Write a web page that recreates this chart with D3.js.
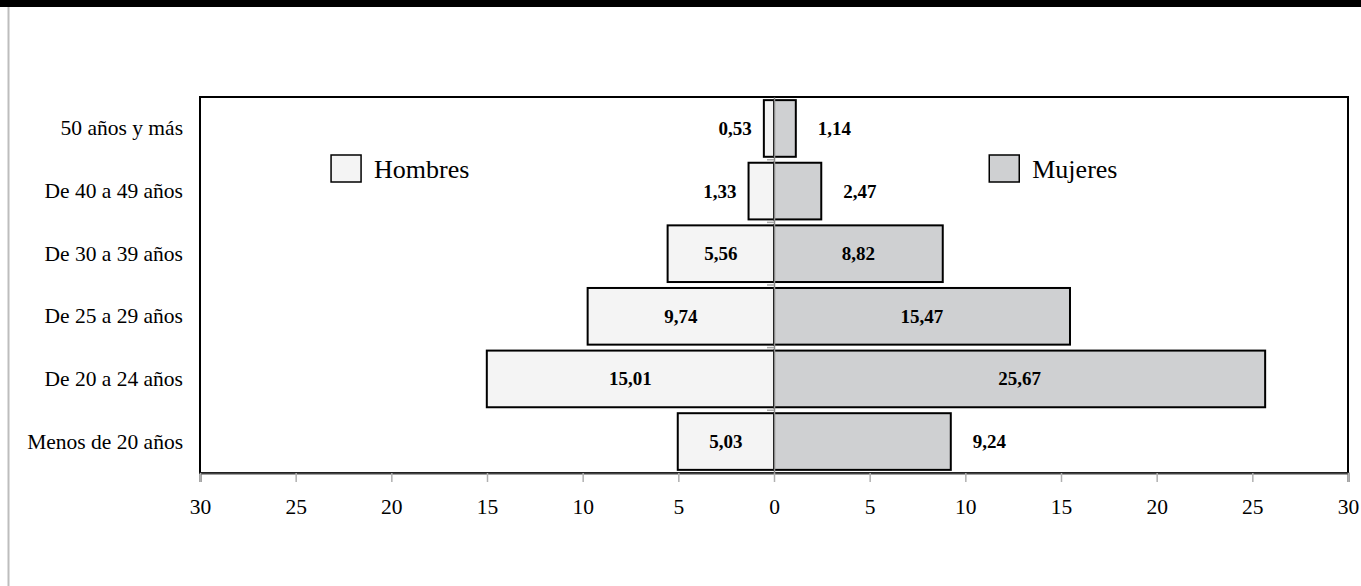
<!DOCTYPE html>
<html lang="es">
<head>
<meta charset="UTF-8">
<title>Pirámide por edad</title>
<script src="https://d3js.org/d3.v7.min.js"></script>
<style>
    body { margin: 0; background: #fff; }
    svg text { font-family: "Liberation Serif", "Times New Roman", serif; fill: #000; }
    .val { font-weight: bold; font-size: 19px; }
    .cat { font-size: 21.5px; }
    .legend-text { font-size: 26px; }
</style>
</head>
<body>
<script>
// datos (de arriba hacia abajo)
var categories = ["50 años y más", "De 40 a 49 años", "De 30 a 39 años",
                  "De 25 a 29 años", "De 20 a 24 años", "Menos de 20 años"];
var hombres = [0.53, 1.33, 5.56, 9.74, 15.01, 5.03];
var mujeres = [1.14, 2.47, 8.82, 15.47, 25.67, 9.24];
// etiquetas fuera de la barra
var hombresFuera = [true, true, false, false, false, false];
var mujeresFuera = [true, true, false, false, false, true];
var ticks = [-30, -25, -20, -15, -10, -5, 0, 5, 10, 15, 20, 25, 30];

var W = 1361, H = 586;
var mLeft = 200, mRight = 1348, mTop = 97, mBottom = 473;

var svg = d3.select("body").append("svg")
    .attr("width", W).attr("height", H);

// marco de la página
svg.append("rect").attr("x", 0).attr("y", 0).attr("width", W).attr("height", 7).attr("fill", "#000");
svg.append("line").attr("x1", 8.5).attr("x2", 8.5).attr("y1", 7).attr("y2", H)
    .attr("stroke", "#bdbdbd").attr("stroke-width", 2);

var x = d3.scaleLinear().domain([-30, 30]).range([mLeft, mRight]);
var y = d3.scaleBand().domain(categories).range([mTop, mBottom]).paddingInner(0.095).paddingOuter(0.05);

// caja del gráfico
svg.append("rect")
    .attr("x", mLeft).attr("y", mTop)
    .attr("width", mRight - mLeft).attr("height", mBottom - mTop)
    .attr("fill", "none").attr("stroke", "#000").attr("stroke-width", 2);

// eje x
var xAxis = svg.append("g")
    .attr("transform", "translate(0," + mBottom + ")")
    .call(d3.axisBottom(x).tickValues(ticks).tickSize(9).tickFormat(function (d) { return Math.abs(d); }));
xAxis.select(".domain").attr("stroke", "#444").attr("stroke-width", 2);
xAxis.selectAll(".tick line").attr("stroke", "#b0b0b0").attr("stroke-width", 1.5);
xAxis.selectAll(".tick text").attr("dy", "0").attr("y", 41)
    .style("font-size", "21.5px").style("font-family", "Liberation Serif, serif");

// barras hombres
svg.selectAll(".bar-h").data(hombres).enter().append("rect")
    .attr("class", "bar-h")
    .attr("x", function (d) { return x(-d); })
    .attr("y", function (d, i) { return y(categories[i]); })
    .attr("width", function (d) { return x(0) - x(-d); })
    .attr("height", y.bandwidth())
    .attr("fill", "#f4f4f4").attr("stroke", "#000").attr("stroke-width", 2);

// barras mujeres
svg.selectAll(".bar-m").data(mujeres).enter().append("rect")
    .attr("class", "bar-m")
    .attr("x", x(0))
    .attr("y", function (d, i) { return y(categories[i]); })
    .attr("width", function (d) { return x(d) - x(0); })
    .attr("height", y.bandwidth())
    .attr("fill", "#cfd0d2").attr("stroke", "#000").attr("stroke-width", 2);

// eje central
var yAxis = svg.append("g")
    .attr("transform", "translate(" + x(0) + ",0)")
    .call(d3.axisLeft(y).tickSize(0).tickFormat(""));
yAxis.select(".domain").attr("stroke", "#8a8a8a").attr("stroke-width", 1.5);
svg.selectAll(".ytick").data(categories.slice(1)).enter().append("line")
    .attr("x1", x(0) - 7).attr("x2", x(0))
    .attr("y1", function (d) { return y(d) - y.step() * y.paddingInner() / 2; })
    .attr("y2", function (d) { return y(d) - y.step() * y.paddingInner() / 2; })
    .attr("stroke", "#aaa").attr("stroke-width", 1.5);

// etiquetas de categoría
svg.selectAll(".cat").data(categories).enter().append("text")
    .attr("class", "cat")
    .attr("x", mLeft - 17)
    .attr("y", function (d) { return y(d) + y.bandwidth() / 2; })
    .attr("text-anchor", "end").attr("dominant-baseline", "central")
    .text(function (d) { return d; });

var fmt = function (v) { return v.toFixed(2).replace(".", ","); };

// valores hombres
svg.selectAll(".val-h").data(hombres).enter().append("text")
    .attr("class", "val")
    .attr("x", function (d, i) { return hombresFuera[i] ? x(-d) - 12 : x(-d / 2); })
    .attr("y", function (d, i) { return y(categories[i]) + y.bandwidth() / 2; })
    .attr("text-anchor", function (d, i) { return hombresFuera[i] ? "end" : "middle"; })
    .attr("dominant-baseline", "central")
    .text(fmt);

// valores mujeres
svg.selectAll(".val-m").data(mujeres).enter().append("text")
    .attr("class", "val")
    .attr("x", function (d, i) { return mujeresFuera[i] ? x(d) + 22 : x(d / 2); })
    .attr("y", function (d, i) { return y(categories[i]) + y.bandwidth() / 2; })
    .attr("text-anchor", function (d, i) { return mujeresFuera[i] ? "start" : "middle"; })
    .attr("dominant-baseline", "central")
    .text(fmt);

// leyenda
var legend = [{ name: "Hombres", fill: "#f4f4f4", at: -23.15 }, { name: "Mujeres", fill: "#cfd0d2", at: 11.25 }];
var lg = svg.selectAll(".legend").data(legend).enter().append("g")
    .attr("transform", function (d) { return "translate(" + x(d.at) + ",155)"; });
lg.append("rect").attr("width", 30).attr("height", 27)
    .attr("fill", function (d) { return d.fill; }).attr("stroke", "#000").attr("stroke-width", 1.5);
lg.append("text").attr("class", "legend-text").attr("x", 43).attr("y", 14)
    .attr("dominant-baseline", "central")
    .text(function (d) { return d.name; });
</script>
</body>
</html>
